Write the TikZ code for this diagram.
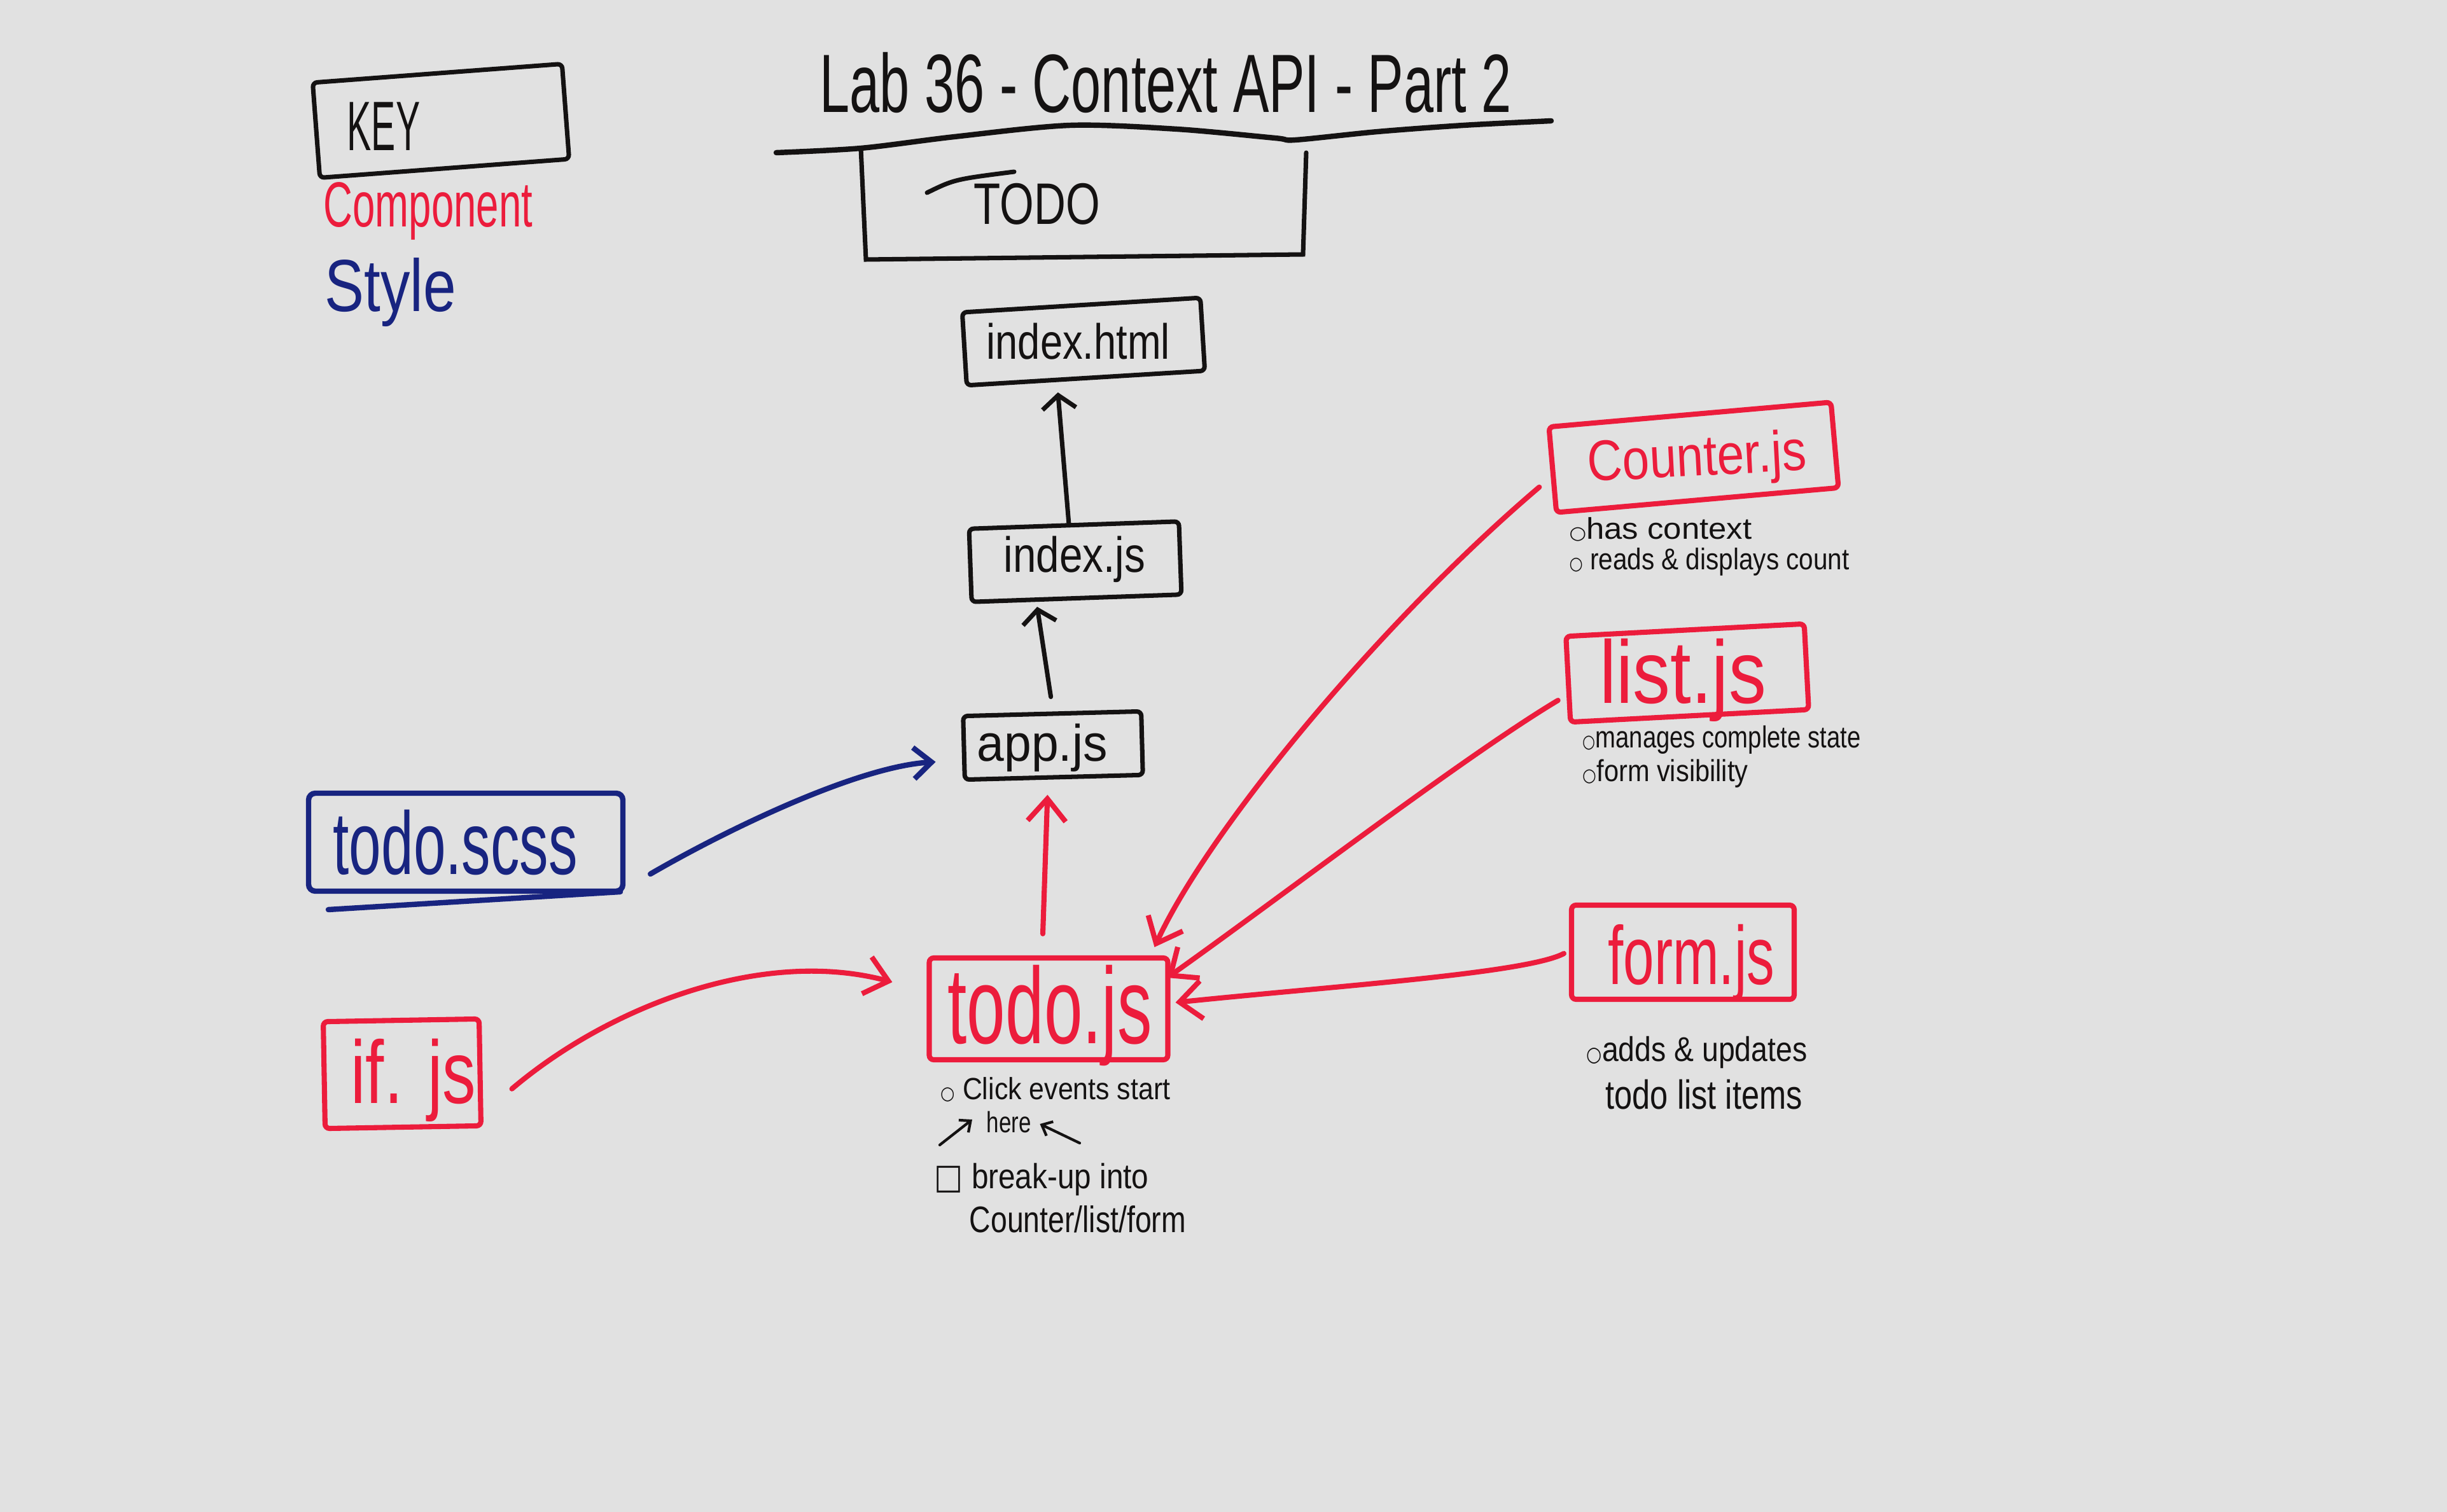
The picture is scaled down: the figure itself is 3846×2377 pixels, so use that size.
\documentclass[tikz,border=0pt]{standalone}
\usepackage{fontspec}
\usepackage{graphicx}
\setmainfont{Liberation Sans}
\newfontfamily\sym{DejaVu Sans}
\usetikzlibrary{arrows.meta,calc}
\definecolor{bg}{RGB}{225,225,225}
\definecolor{mred}{RGB}{236,28,60}
\definecolor{mblue}{RGB}{24,36,128}
\definecolor{mink}{RGB}{20,18,18}
\newcommand\hw[3]{\scalebox{#1}[1]{\fontsize{#2pt}{#2pt}\selectfont #3}}
\newcommand\bul{{\sym\scalebox{0.6}{○}}}
\begin{document}
\begin{tikzpicture}[x=0.1mm,y=-0.1mm,
  kbox/.style={draw=mink, line width=2pt, inner sep=0pt, rounded corners=2pt},
  rbox/.style={draw=mred, line width=2.3pt, inner sep=0pt, rounded corners=2pt},
  bbox/.style={draw=mblue, line width=2.4pt, inner sep=0pt, rounded corners=3pt},
  txt/.style={inner sep=0pt, anchor=base west},
  kline/.style={draw=mink, line width=2pt, line cap=round},
  rline/.style={draw=mred, line width=2.3pt, line cap=round},
  bline/.style={draw=mblue, line width=2.4pt, line cap=round},
  ktip/.style={-{Straight Barb[length=6pt,width=15pt]}},
  rtip/.style={-{Straight Barb[length=10pt,width=17pt]}},
  btip/.style={-{Straight Barb[length=8pt,width=14pt]}},
  ntip/.style={-{Straight Barb[length=4pt,width=7pt]}},
]
\fill[bg] (0,0) rectangle (3846,2377);
\useasboundingbox (0,0) rectangle (3846,2377);

% key
\node[kbox, minimum width=39.3mm, minimum height=15mm, rotate=4.3] (keybox) at (693,190) {};
\node[txt, text=mink] (key) at (545,237) {\hw{0.52}{31.3}{KEY}};
\node[txt, text=mred] (component) at (508,357) {\hw{0.634}{28.5}{Component}};
\node[txt, text=mblue] (style) at (510,490) {\hw{0.8}{33}{Style}};

% title
\node[txt, text=mink] (title) at (1288,177) {\hw{0.651}{37}{Lab 36 - Context API - Part 2}};
\draw[kline, line width=2.4pt] plot[smooth] coordinates {(1220,240) (1353,233) (1500,215) (1682,197) (1850,203) (2004,217) (2036,220) (2165,207) (2300,197) (2438,190)};
\draw[kline] (1353,233) -- (1361,408) -- (2048,400) -- (2053,240);
\node[txt, text=mink] (todo) at (1530,353) {\hw{0.75}{26.2}{TODO}};
\draw[kline] (1457,303) .. controls (1500,282) .. (1594,270);

% boxes
\node[kbox, minimum width=37.5mm, minimum height=11.5mm, rotate=3.5] (indexhtml) at (1703,537) {};
\node[txt, text=mink] (indexhtmlt) at (1550,565) {\hw{0.81}{22.2}{index.html}};
\node[kbox, minimum width=33mm, minimum height=11.5mm, rotate=2] (indexjs) at (1690,883) {};
\node[txt, text=mink] (indexjst) at (1577,900) {\hw{0.84}{22.2}{index.js}};
\node[kbox, minimum width=28mm, minimum height=10mm, rotate=1.5] (appjs) at (1655,1172) {};
\node[txt, text=mink] (appjst) at (1535,1196) {\hw{0.95}{23}{app.js}};
\node[rbox, minimum width=37.5mm, minimum height=16mm] (todojs) at (1648,1586) {};
\node[txt, text=mred] (todojst) at (1489,1640) {\hw{0.64}{48.4}{todo.js}};
\node[bbox, minimum width=49.4mm, minimum height=15.4mm] (todoscss) at (732,1324) {};
\draw[bline] (516,1430) -- (975,1402);
\node[txt, text=mblue] (todoscsst) at (523,1374) {\hw{0.65}{39.8}{todo.scss}};
\node[rbox, minimum width=24.5mm, minimum height=16.8mm, rotate=1] (ifjs) at (632,1688) {};
\node[txt, text=mred] (ifjst) at (551,1734) {\hw{0.75}{39.8}{if. js}};
\node[rbox, minimum width=44.5mm, minimum height=13.5mm, rotate=5] (counterjs) at (2662,719) {};
\node[txt, text=mred, rotate=3] (counterjst) at (2496,757) {\hw{0.85}{25.6}{Counter.js}};
\node[rbox, minimum width=37.5mm, minimum height=13.5mm, rotate=3] (listjs) at (2652,1058) {};
\node[txt, text=mred] (listjst) at (2514,1106) {\hw{0.84}{39.8}{list.js}};
\node[rbox, minimum width=35mm, minimum height=14.8mm] (formjs) at (2645,1497) {};
\node[txt, text=mred] (formjst) at (2527,1547) {\hw{0.67}{37}{form.js}};

% notes
\node[txt, text=mink] (n1) at (1478,1728) {\hw{0.89}{13.7}{\bul\ Click events start}};
\node[txt, text=mink] (here) at (1550,1780) {\hw{0.76}{13.1}{here}};
\node[txt, text=mink] (n3) at (1468,1868) {\hw{0.87}{15.6}{{\sym □} break-up into}};
\node[txt, text=mink] (n4) at (1523,1937) {\hw{0.8}{16.5}{Counter/list/form}};
\coordinate (ha) at (1477,1800);
\coordinate (hb) at (1697,1797);
\draw[kline, line width=1.2pt, ntip] (ha) -- ($(here.base west)+(-22,-20)$);
\draw[kline, line width=1.2pt, ntip] (hb) -- ($(here.base east)+(13,-13)$);

\node[txt, text=mink] (c1) at (2466,848) {\hw{1.08}{13.4}{\bul has context}};
\node[txt, text=mink] (c2) at (2466,896) {\hw{0.86}{13.4}{\bul\ reads \& displays count}};
\node[txt, text=mink] (l1) at (2487,1176) {\hw{0.8}{13.6}{\bul manages complete state}};
\node[txt, text=mink] (l2) at (2487,1228) {\hw{0.87}{13.6}{\bul form visibility}};
\node[txt, text=mink] (f1) at (2493,1668) {\hw{0.857}{15.4}{\bul adds \& updates}};
\node[txt, text=mink] (f2) at (2523,1743) {\hw{0.79}{18.2}{todo list items}};

% connectors
\draw[kline, ktip] ($(indexjs.north)+(-8,1)$) -- ($(indexhtml.south)+(-44,19)$);
\draw[kline, ktip] ($(appjs.north)+(-2,-23)$) -- ($(indexjs.south)+(-62,10)$);
\draw[rline, rtip] ($(todojs.north)+(-9,-34)$) -- ($(appjs.south)+(-10,24)$);
\draw[bline, btip] ($(todoscss.east)+(39,50)$) .. controls (1150,1300) and (1350,1205) .. ($(appjs.west)+(-41,22)$);
\draw[rline, rtip] ($(ifjs.east)+(46,26)$) .. controls (960,1580) and (1200,1490) .. ($(todojs.west)+(-54,-42)$);
\draw[rline, rtip] ($(counterjs.west)+(-17,27)$) .. controls (2173,975) and (1900,1303) .. ($(todojs.north east)+(-25,-13)$);
\draw[rline, rtip] ($(listjs.west)+(-12,33)$) .. controls (2300,1190) and (2000,1420) .. ($(todojs.east)+(-5,-49)$);
\draw[rline, rtip] ($(formjs.west)+(-8,2)$) .. controls (2400,1530) and (2100,1550) .. ($(todojs.east)+(8,-10)$);
\end{tikzpicture}
\end{document}
